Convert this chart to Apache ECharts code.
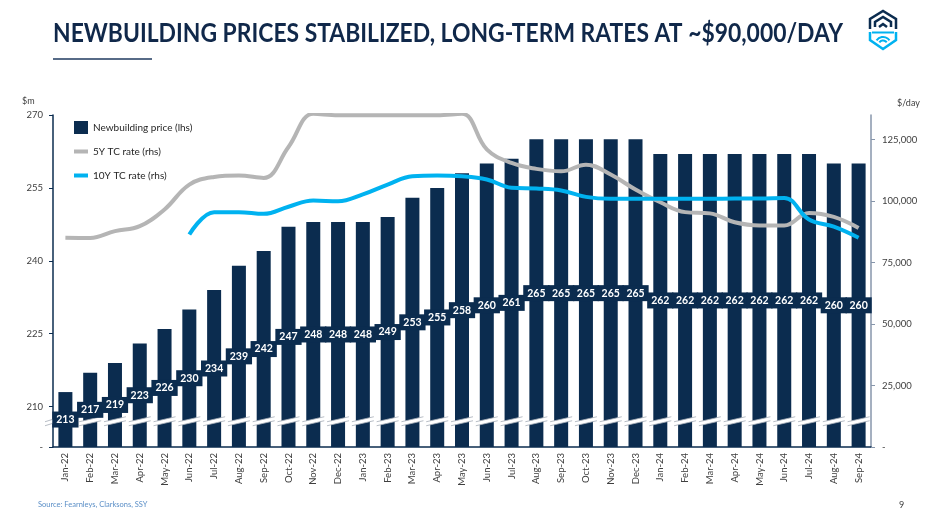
<!DOCTYPE html>
<html><head><meta charset="utf-8">
<script src="https://cdn.jsdelivr.net/npm/echarts@6/dist/echarts.min.js"></script>
<style>html,body{margin:0;padding:0;background:#fff}#c{width:944px;height:518px}</style>
</head><body><div id="c"></div>
<script>
// ---------- data ----------
const categories = ['Jan-22','Feb-22','Mar-22','Apr-22','May-22','Jun-22','Jul-22','Aug-22','Sep-22','Oct-22','Nov-22','Dec-22',
  'Jan-23','Feb-23','Mar-23','Apr-23','May-23','Jun-23','Jul-23','Aug-23','Sep-23','Oct-23','Nov-23','Dec-23',
  'Jan-24','Feb-24','Mar-24','Apr-24','May-24','Jun-24','Jul-24','Aug-24','Sep-24'];
const newbuildingPrice = [213,217,219,223,226,230,234,239,242,247,248,248,
  248,249,253,255,258,260,261,265,265,265,265,265,
  262,262,262,262,262,262,262,260,260];
const rate5Y = [85100,85000,87800,89800,96600,106700,109800,110400,109400,122000,135500,134900,
  134900,134900,134900,134900,135500,121000,115500,113100,112100,114800,110800,104700,
  99500,95500,95000,91400,90100,90100,95200,93600,89100];
const rate10Y = [null,null,null,null,null,86400,95500,95500,94800,97700,100200,99900,
  102700,106700,110100,110400,110100,108800,105400,105100,104300,101700,100900,100900,
  100900,100900,100900,101000,101000,101300,92500,89600,85100];
const leftTickValues = [210,225,240,255,270];
const leftAxisMin = 201.7, leftAxisMax = 270;   // broken axis: bottom shown as "-"
const rightTickValues = [0,25000,50000,75000,100000,125000];
const rightAxisMax = 135000;
const breakLevel = 207;   // where the axis-break marks sit (lhs units)
const seriesNames = ['Newbuilding price (lhs)','5Y TC rate (rhs)','10Y TC rate (rhs)'];
const titleText = 'NEWBUILDING PRICES STABILIZED, LONG-TERM RATES AT ~$90,000/DAY';
const sourceText = 'Source: Fearnleys, Clarksons, SSY';

// ---------- style ----------
const NAVY = '#0b2c4f', GRAY = '#b5b5b5', CYAN = '#00b2f0', TXT = '#404040';
const FONT = 'Lato, "Open Sans", sans-serif';

const chart = echarts.init(document.getElementById('c'), null, {renderer:'canvas'});

const ctx = document.createElement('canvas').getContext('2d');
ctx.font = 'bold 26px Lato';
const titleW = ctx.measureText(titleText).width;
const titleScale = 790 / titleW;

function breakMark(cx, cy, hw) {
  const s = 2.5, t = 4;
  return [
    {type:'polygon', shape:{points:[[cx-hw, cy+s], [cx+hw, cy-s], [cx+hw, cy-s+t], [cx-hw, cy+s+t]]}, style:{fill:'#fff'}},
    {type:'line', shape:{x1:cx-hw, y1:cy+s, x2:cx+hw, y2:cy-s}, style:{stroke:'#a4acb6', lineWidth:0.8}},
    {type:'line', shape:{x1:cx-hw, y1:cy+s+t, x2:cx+hw, y2:cy-s+t}, style:{stroke:'#a4acb6', lineWidth:0.8}}
  ];
}

const barLabel = {
  show:true, position:'inside', color:'#fff', fontFamily:FONT, fontWeight:'bold', fontSize:10.5,
  backgroundColor:NAVY, padding:[3,4,2,4]
};

const option = {
  animation:false,
  backgroundColor:'#fff',
  grid:{left:53, right:73, top:115, bottom:71, containLabel:false},
  legend:{
    orient:'vertical', left:74, top:121, padding:0, itemWidth:14, itemHeight:13, itemGap:11,
    textStyle:{fontFamily:FONT, fontSize:10, color:'#262626'},
    data:[
      {name:seriesNames[0], icon:'rect'},
      {name:seriesNames[1], icon:'path://M0,0 M14,13 M0,4.5 L14,4.5 L14,8.5 L0,8.5 Z'},
      {name:seriesNames[2], icon:'path://M0,0 M14,13 M0,4.5 L14,4.5 L14,8.5 L0,8.5 Z'}
    ]
  },
  xAxis:{
    type:'category', data:categories, boundaryGap:true,
    axisLine:{lineStyle:{color:NAVY, width:1.5}},
    axisTick:{show:false},
    axisLabel:{rotate:90, interval:0, margin:6, fontFamily:FONT, fontSize:9.5, color:TXT}
  },
  yAxis:[
    {
      type:'value', min:leftAxisMin, max:leftAxisMax, position:'left',
      splitLine:{show:false},
      axisLine:{show:true, lineStyle:{color:NAVY, width:1.5}},
      axisTick:{show:true, length:4, inside:false, customValues:[leftAxisMin].concat(leftTickValues), lineStyle:{color:NAVY}},
      axisLabel:{customValues:[leftAxisMin].concat(leftTickValues), margin:10, fontFamily:FONT, fontSize:9.5, color:TXT,
        formatter:v => (Math.abs(v-leftAxisMin)<0.01 ? '-' : String(v))}
    },
    {
      type:'value', min:0, max:rightAxisMax, position:'right',
      splitLine:{show:false},
      axisLine:{show:true, lineStyle:{color:'#8796ab', width:1.5}},
      axisTick:{show:true, length:4, customValues:rightTickValues, lineStyle:{color:'#8796ab'}},
      axisLabel:{customValues:rightTickValues, margin:11, fontFamily:FONT, fontSize:9.5, color:TXT,
        formatter:v => (v===0 ? '-' : v.toLocaleString('en-US'))}
    }
  ],
  series:[
    {name:seriesNames[0], type:'bar', yAxisIndex:0, data:newbuildingPrice, barWidth:14, barGap:'-100%',
      itemStyle:{color:NAVY}, z:2},
    {type:'custom', yAxisIndex:0, z:3, silent:true,
      data:categories.map((c,i)=>[i, breakLevel]),
      renderItem:function(params, api){
        const p = api.coord([api.value(0), api.value(1)]);
        let children = breakMark(p[0], p[1]-2, 11);
        if (params.dataIndex === 0) children = children.concat(breakMark(params.coordSys.x, p[1]-2, 8));
        return {type:'group', children};
      }},
    {type:'bar', yAxisIndex:0, data:newbuildingPrice, barWidth:14, barGap:'-100%', silent:true,
      itemStyle:{color:'rgba(0,0,0,0)'}, label:barLabel, z:4},
    {name:seriesNames[1], type:'line', yAxisIndex:1, data:rate5Y, smooth:0.4, showSymbol:false, symbol:'none',
      lineStyle:{color:GRAY, width:4}, itemStyle:{color:GRAY}, z:5},
    {name:seriesNames[2], type:'line', yAxisIndex:1, data:rate10Y, smooth:0.4, showSymbol:false, symbol:'none',
      lineStyle:{color:CYAN, width:4}, itemStyle:{color:CYAN}, z:6}
  ],
  graphic:[
    {type:'text', x:53, y:34, scaleX:titleScale, style:{text:titleText, font:'bold 26px Lato', fill:'#10284a', verticalAlign:'middle'}},
    {type:'line', shape:{x1:53, y1:59, x2:152, y2:59}, style:{stroke:'#1f3a5f', lineWidth:1.5}},
    {type:'text', x:22, y:101, style:{text:'$m', font:'9px Lato', fill:TXT, verticalAlign:'middle'}},
    {type:'text', x:897, y:103, style:{text:'$/day', font:'9px Lato', fill:TXT, verticalAlign:'middle'}},
    {type:'text', x:38, y:505, style:{text:sourceText, font:'7.5px Lato', fill:'#5b8fc7', verticalAlign:'middle'}},
    {type:'text', x:899, y:505, style:{text:'9', font:'9px Lato', fill:TXT, verticalAlign:'middle'}},
    {type:'group', children:[
      {type:'polyline', shape:{points:[[870,29],[870,19],[883,11],[896,19],[896,29]]}, style:{stroke:NAVY, lineWidth:2.5, fill:null}},
      {type:'polyline', shape:{points:[[875,27],[875,22],[883,17],[891,22],[891,27]]}, style:{stroke:NAVY, lineWidth:2.5, fill:null}},
      {type:'polyline', shape:{points:[[879,27],[883,24],[887,27]]}, style:{stroke:NAVY, lineWidth:2.5, fill:null}},
      {type:'polyline', shape:{points:[[870,32],[870,40],[883,49],[896,40],[896,32]]}, style:{stroke:CYAN, lineWidth:2.5, fill:null}},
      {type:'line', shape:{x1:872, y1:32.5, x2:894, y2:32.5}, style:{stroke:CYAN, lineWidth:2}},
      {type:'arc', shape:{cx:883, cy:45, r:8, startAngle:Math.PI*1.2, endAngle:Math.PI*1.8}, style:{stroke:CYAN, lineWidth:2, fill:null}},
      {type:'arc', shape:{cx:883, cy:45, r:4.5, startAngle:Math.PI*1.2, endAngle:Math.PI*1.8}, style:{stroke:CYAN, lineWidth:2, fill:null}}
    ]}
  ]
};
chart.setOption(option);
</script>
</body></html>
